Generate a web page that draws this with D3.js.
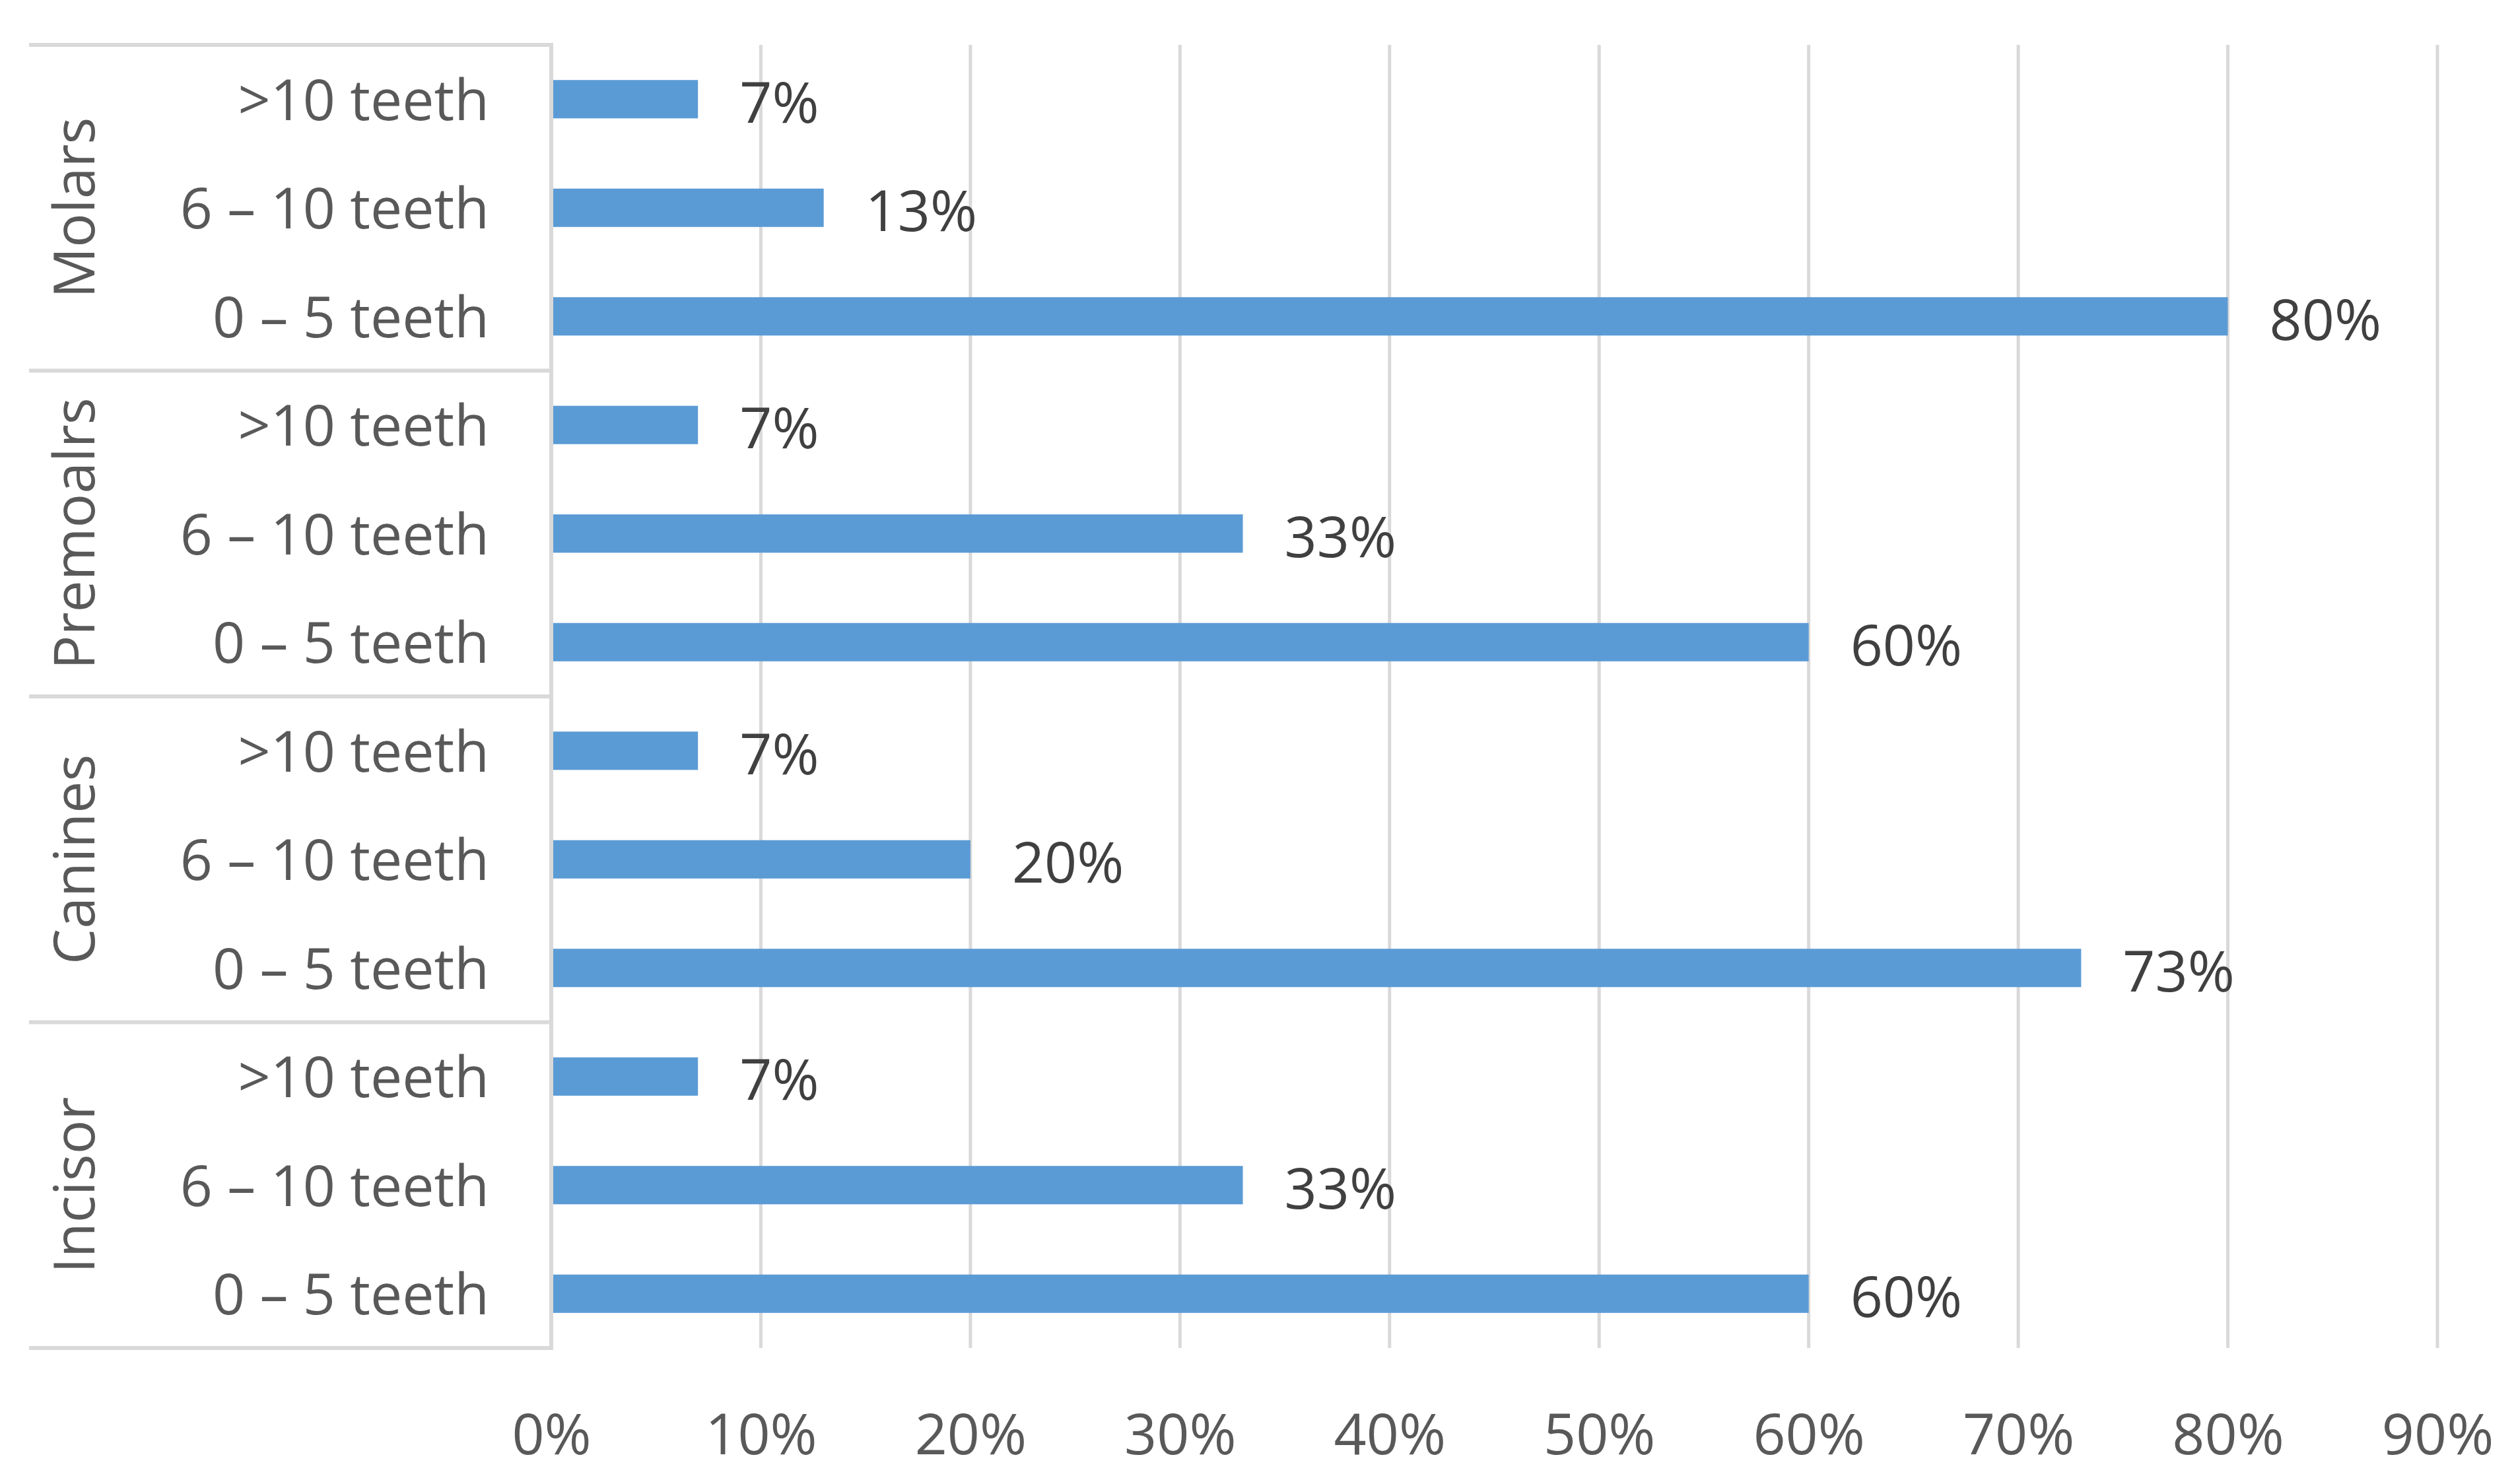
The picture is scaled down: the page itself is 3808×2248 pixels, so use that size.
<!DOCTYPE html>
<html>
<head>
<meta charset="utf-8">
<script src="https://cdn.jsdelivr.net/npm/d3@7"></script>
<style>
  body { margin: 0; background: #fff; }
  text { font-family: "Open Sans", sans-serif; }
</style>
</head>
<body>
<svg id="chart"></svg>
<script>
// Data
var groups = ['Molars', 'Premoalrs', 'Canines', 'Incisor'];
var categories = ['>10 teeth', '6 \u2013 10 teeth', '0 \u2013 5 teeth'];
var values = [
  [0.07, 0.13, 0.80],
  [0.07, 0.33, 0.60],
  [0.07, 0.20, 0.73],
  [0.07, 0.33, 0.60]
];
var tickValues = [0, 0.1, 0.2, 0.3, 0.4, 0.5, 0.6, 0.7, 0.8, 0.9];

var W = 3808, H = 2248;
var margin = { top: 68, right: 116, bottom: 206, left: 835 };
var labelLeft = 44;
var fontSize = 86;

var svg = d3.select('#chart')
  .attr('width', W)
  .attr('height', H);

svg.append('rect')
  .attr('width', W)
  .attr('height', H)
  .attr('fill', '#fff');

// flatten rows, keep group and category
var rows = [];
groups.forEach(function(g, gi) {
  categories.forEach(function(c, ci) {
    rows.push({ key: g + '|' + c, group: g, category: c, value: values[gi][ci] });
  });
});

var x = d3.scaleLinear()
  .domain([0, 0.9])
  .range([margin.left, W - margin.right]);

var y = d3.scaleBand()
  .domain(rows.map(function(d) { return d.key; }))
  .range([margin.top, H - margin.bottom])
  .paddingInner(0.647)
  .paddingOuter(0.3235);

var step = y.step();
var plotTop = margin.top, plotBottom = H - margin.bottom;

// vertical gridlines
svg.append('g')
  .selectAll('line')
  .data(tickValues.slice(1))
  .enter().append('line')
  .attr('x1', function(d) { return x(d); })
  .attr('x2', function(d) { return x(d); })
  .attr('y1', plotTop)
  .attr('y2', plotBottom)
  .attr('stroke', '#d9d9d9')
  .attr('stroke-width', 5);

// group separator lines (top, between groups, bottom)
var sepY = d3.range(groups.length + 1).map(function(i) {
  return plotTop + i * categories.length * step;
});
svg.append('g')
  .selectAll('line')
  .data(sepY)
  .enter().append('line')
  .attr('x1', labelLeft)
  .attr('x2', x(0))
  .attr('y1', function(d) { return d; })
  .attr('y2', function(d) { return d; })
  .attr('stroke', '#d9d9d9')
  .attr('stroke-width', 6);

// bars
svg.append('g')
  .selectAll('rect')
  .data(rows)
  .enter().append('rect')
  .attr('x', x(0))
  .attr('y', function(d) { return y(d.key); })
  .attr('width', function(d) { return x(d.value) - x(0); })
  .attr('height', y.bandwidth())
  .attr('fill', '#5b9bd5');

// vertical axis line
svg.append('line')
  .attr('x1', x(0))
  .attr('x2', x(0))
  .attr('y1', plotTop - 3)
  .attr('y2', plotBottom + 3)
  .attr('stroke', '#d9d9d9')
  .attr('stroke-width', 6);

// data labels
svg.append('g')
  .selectAll('text')
  .data(rows)
  .enter().append('text')
  .attr('x', function(d) { return x(d.value) + 63; })
  .attr('y', function(d) { return y(d.key) + y.bandwidth() / 2 + 2; })
  .attr('dominant-baseline', 'central')
  .attr('font-size', fontSize)
  .attr('fill', '#404040')
  .text(function(d) { return d3.format('.0%')(d.value); });

// category labels
svg.append('g')
  .selectAll('text')
  .data(rows)
  .enter().append('text')
  .attr('x', x(0) - 94)
  .attr('y', function(d) { return y(d.key) + y.bandwidth() / 2 - 2; })
  .attr('dominant-baseline', 'central')
  .attr('text-anchor', 'end')
  .attr('font-size', fontSize)
  .attr('fill', '#595959')
  .text(function(d) { return d.category; });

// group labels, rotated
svg.append('g')
  .selectAll('text')
  .data(groups)
  .enter().append('text')
  .attr('transform', function(d, i) {
    var cy = (sepY[i] + sepY[i + 1]) / 2;
    return 'translate(109,' + cy + ') rotate(-90)';
  })
  .attr('dominant-baseline', 'central')
  .attr('text-anchor', 'middle')
  .attr('font-size', fontSize)
  .attr('fill', '#595959')
  .text(function(d) { return d; });

// x axis tick labels
var xAxis = d3.axisBottom(x)
  .tickValues(tickValues)
  .tickFormat(d3.format('.0%'))
  .tickSize(0)
  .tickPadding(0);

var axisG = svg.append('g')
  .attr('transform', 'translate(0,2169)')
  .call(xAxis);
axisG.select('.domain').remove();
axisG.selectAll('text')
  .attr('y', 0)
  .attr('dy', null)
  .attr('dominant-baseline', 'central')
  .attr('font-size', fontSize)
  .attr('font-family', '"Open Sans", sans-serif')
  .attr('fill', '#595959');
</script>
</body>
</html>
